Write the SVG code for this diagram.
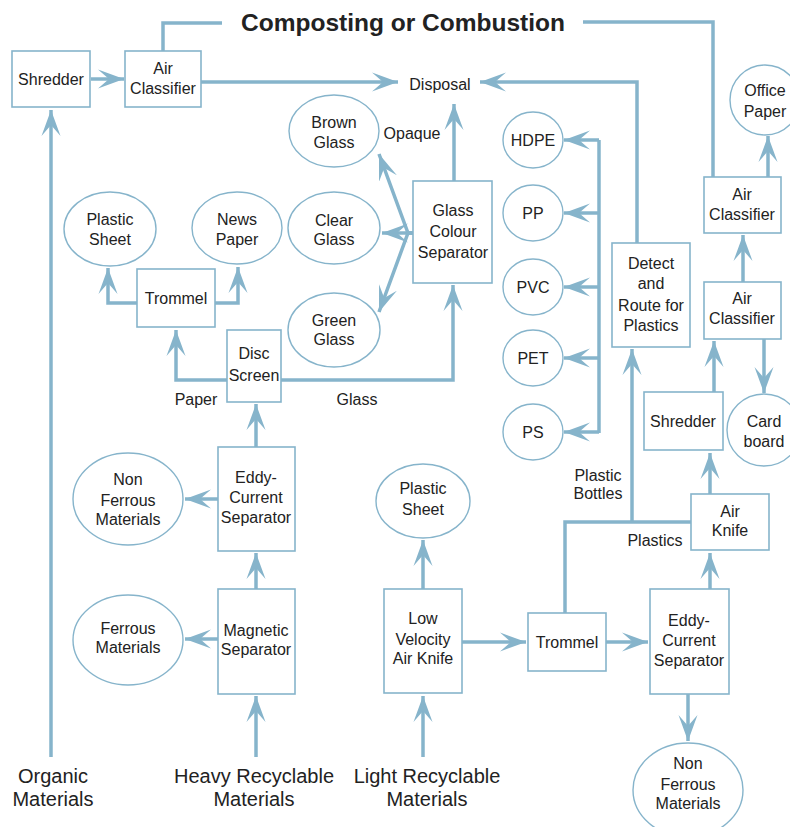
<svg xmlns="http://www.w3.org/2000/svg" width="790" height="827" viewBox="0 0 790 827">
<defs>
<marker id="ah" markerUnits="userSpaceOnUse" markerWidth="28" markerHeight="22" refX="26" refY="10" orient="auto" viewBox="0 0 28 20">
<path d="M26,10 L0,0.5 L11,10 L0,19.5 z" fill="#86b4cb"/>
</marker>
</defs>
<style>
.box{fill:#fff;stroke:#86b4cb;stroke-width:1.6}
.ell{fill:#fff;stroke:#86b4cb;stroke-width:1.4}
.c{fill:none;stroke:#86b4cb;stroke-width:3.5}
.a{marker-end:url(#ah)}
text{font-family:"Liberation Sans",Arial,sans-serif;font-size:16px;fill:#222;text-anchor:middle}
.big{font-size:20px}
.title{font-size:24.5px;font-weight:bold}
</style>
<rect width="790" height="827" fill="#fff"/>
<g id="connectors">
<path class="c a" d="M51,757 V110"/>
<path class="c a" d="M91,79 H124"/>
<path class="c a" d="M201,82 H398"/>
<path class="c a" d="M637,243 V82 H480"/>
<path class="c a" d="M454,181 V104"/>
<path class="c a" d="M413,233 H408 L379,154"/>
<path class="c a" d="M413,233 H382"/>
<path class="c a" d="M413,233 H408 L379,312"/>
<path class="c a" d="M281,380 H453 V285"/>
<path class="c a" d="M227,380 H176 V330"/>
<path class="c a" d="M137,303 H108 V268"/>
<path class="c a" d="M215,303 H238 V267"/>
<path class="c a" d="M256,447 V404"/>
<path class="c a" d="M218,499 H185"/>
<path class="c a" d="M256,589 V553"/>
<path class="c a" d="M218,639 H185"/>
<path class="c a" d="M256,757 V696"/>
<path class="c a" d="M423,757 V696"/>
<path class="c a" d="M423,589 V540"/>
<path class="c a" d="M462,642 H526"/>
<path class="c a" d="M606,642 H648"/>
<path class="c a" d="M688,694 V741"/>
<path class="c a" d="M710,589 V553"/>
<path class="c" d="M565,613 V522 H691"/>
<path class="c a" d="M632,522 V349"/>
<path class="c a" d="M710,494 V453"/>
<path class="c a" d="M714,392 V341"/>
<path class="c a" d="M764,339 V393"/>
<path class="c a" d="M743,282 V235"/>
<path class="c a" d="M768,177 V136"/>
<path class="c" d="M163,51 V23 H222"/>
<path class="c" d="M583,22 H713 V177"/>
<path class="c" d="M599,433 V140"/>
<path class="c a" d="M599,140 H564"/>
<path class="c a" d="M599,213 H564"/>
<path class="c a" d="M599,287 H564"/>
<path class="c a" d="M599,358 H564"/>
<path class="c a" d="M599,432 H564"/>
</g>
<text class="title" x="403" y="31">Composting or Combustion</text>
<g id="shredder1"><rect class="box" x="12" y="51" width="78" height="56"/><text x="51" y="85">Shredder</text></g>
<g id="airclassifier1"><rect class="box" x="125" y="51" width="76" height="56"/><text x="163" y="74">Air</text><text x="163" y="94">Classifier</text></g>
<g id="disposal"><text x="440" y="90">Disposal</text></g>
<g id="opaque"><text x="412" y="139">Opaque</text></g>
<g id="brownglass"><ellipse class="ell" cx="334" cy="131" rx="45" ry="36"/><text x="334" y="128">Brown</text><text x="334" y="148">Glass</text></g>
<g id="clearglass"><ellipse class="ell" cx="334" cy="228" rx="46" ry="36"/><text x="334" y="226">Clear</text><text x="334" y="245">Glass</text></g>
<g id="greenglass"><ellipse class="ell" cx="334" cy="330" rx="46" ry="37"/><text x="334" y="326">Green</text><text x="334" y="345">Glass</text></g>
<g id="glasscolourseparator"><rect class="box" x="413" y="181" width="79" height="102"/><text x="453" y="216">Glass</text><text x="453" y="237">Colour</text><text x="453" y="258">Separator</text></g>
<g id="plasticsheet1"><ellipse class="ell" cx="110" cy="229" rx="46" ry="37"/><text x="110" y="225">Plastic</text><text x="110" y="245">Sheet</text></g>
<g id="newspaper"><ellipse class="ell" cx="237" cy="228" rx="45" ry="36"/><text x="237" y="225">News</text><text x="237" y="245">Paper</text></g>
<g id="trommel1"><rect class="box" x="137" y="269" width="78" height="58"/><text x="176" y="304">Trommel</text></g>
<g id="discscreen"><rect class="box" x="227" y="330" width="54" height="72"/><text x="254" y="359">Disc</text><text x="254" y="381">Screen</text></g>
<g id="paperlabel"><text x="196" y="405">Paper</text></g>
<g id="glasslabel"><text x="357" y="405">Glass</text></g>
<g id="eddy1"><rect class="box" x="218" y="447" width="77" height="104"/><text x="256" y="483">Eddy-</text><text x="256" y="503">Current</text><text x="256" y="523">Separator</text></g>
<g id="nonferrous1"><ellipse class="ell" cx="128" cy="499" rx="55" ry="46"/><text x="128" y="485">Non</text><text x="128" y="506">Ferrous</text><text x="128" y="525">Materials</text></g>
<g id="magnetic"><rect class="box" x="218" y="589" width="77" height="105"/><text x="256" y="636">Magnetic</text><text x="256" y="655">Separator</text></g>
<g id="ferrous"><ellipse class="ell" cx="128" cy="640" rx="55" ry="45"/><text x="128" y="634">Ferrous</text><text x="128" y="653">Materials</text></g>
<g id="organic"><text class="big" x="53" y="783">Organic</text><text class="big" x="53" y="806">Materials</text></g>
<g id="heavy"><text class="big" x="254" y="783">Heavy Recyclable</text><text class="big" x="254" y="806">Materials</text></g>
<g id="light"><text class="big" x="427" y="783">Light Recyclable</text><text class="big" x="427" y="806">Materials</text></g>
<g id="plasticsheet2"><ellipse class="ell" cx="423" cy="501" rx="47" ry="37"/><text x="423" y="494">Plastic</text><text x="423" y="515">Sheet</text></g>
<g id="lowvelocity"><rect class="box" x="384" y="589" width="78" height="104"/><text x="423" y="624">Low</text><text x="423" y="645">Velocity</text><text x="423" y="664">Air Knife</text></g>
<g id="trommel2"><rect class="box" x="528" y="613" width="78" height="58"/><text x="567" y="648">Trommel</text></g>
<g id="eddy2"><rect class="box" x="650" y="589" width="79" height="105"/><text x="689" y="626">Eddy-</text><text x="689" y="646">Current</text><text x="689" y="666">Separator</text></g>
<g id="nonferrous2"><ellipse class="ell" cx="688" cy="790" rx="55" ry="47"/><text x="688" y="769">Non</text><text x="688" y="790">Ferrous</text><text x="688" y="809">Materials</text></g>
<g id="airknife"><rect class="box" x="691" y="494" width="78" height="56"/><text x="730" y="517">Air</text><text x="730" y="536">Knife</text></g>
<g id="plasticslabel"><text x="655" y="546">Plastics</text></g>
<g id="bottleslabel"><text x="598" y="481">Plastic</text><text x="598" y="499">Bottles</text></g>
<g id="shredder2"><rect class="box" x="644" y="392" width="79" height="58"/><text x="683" y="427">Shredder</text></g>
<g id="cardboard"><ellipse class="ell" cx="764" cy="430" rx="37" ry="36"/><text x="764" y="427">Card</text><text x="764" y="447">board</text></g>
<g id="airclassifier3"><rect class="box" x="704" y="282" width="77" height="57"/><text x="742" y="304">Air</text><text x="742" y="324">Classifier</text></g>
<g id="airclassifier2"><rect class="box" x="704" y="177" width="77" height="56"/><text x="742" y="200">Air</text><text x="742" y="220">Classifier</text></g>
<g id="officepaper"><ellipse class="ell" cx="765" cy="100" rx="35" ry="35"/><text x="765" y="96">Office</text><text x="765" y="117">Paper</text></g>
<g id="detect"><rect class="box" x="612" y="243" width="78" height="104"/><text x="651" y="269">Detect</text><text x="651" y="289">and</text><text x="651" y="311">Route for</text><text x="651" y="331">Plastics</text></g>
<g id="hdpe"><ellipse class="ell" cx="533" cy="140" rx="30" ry="28"/><text x="533" y="146">HDPE</text></g>
<g id="pp"><ellipse class="ell" cx="533" cy="213" rx="30" ry="28"/><text x="533" y="219">PP</text></g>
<g id="pvc"><ellipse class="ell" cx="533" cy="287" rx="30" ry="28"/><text x="533" y="293">PVC</text></g>
<g id="pet"><ellipse class="ell" cx="533" cy="358" rx="30" ry="28"/><text x="533" y="364">PET</text></g>
<g id="ps"><ellipse class="ell" cx="533" cy="432" rx="30" ry="28"/><text x="533" y="438">PS</text></g>
</svg>
